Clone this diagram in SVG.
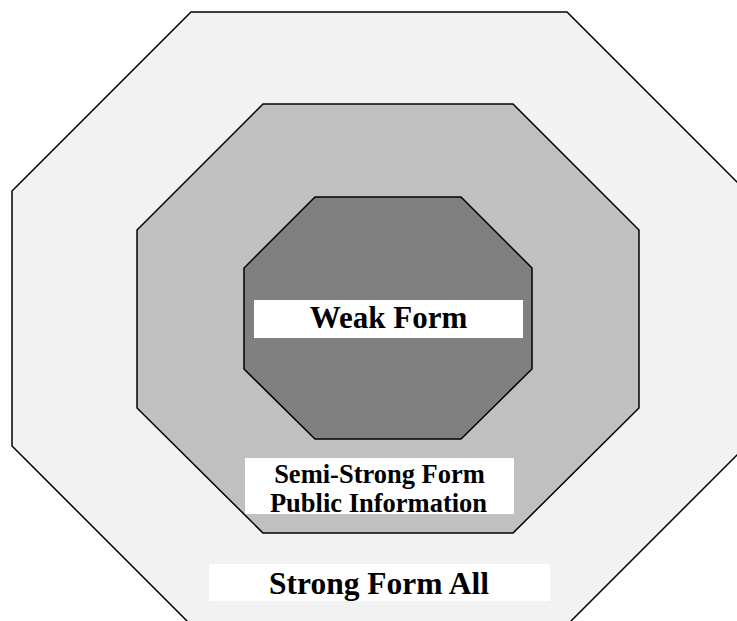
<svg xmlns="http://www.w3.org/2000/svg" width="737" height="621" viewBox="0 0 737 621">
  <style>
    .oct { stroke: #000; stroke-width: 1.5; stroke-linejoin: miter; }
    .box { fill: #fff; stroke: none; }
    .lbl { font-family: "Liberation Serif", "Times New Roman", serif; font-weight: bold; fill: #000; text-anchor: middle; }
  </style>
  <rect x="0" y="0" width="737" height="621" fill="#fff"/>
  <g id="strong-form">
    <polygon class="oct" fill="#f2f2f2" points="191,12 567,12 746,191 746,446 567,625 191,625 12,446 12,191"/>
  </g>
  <g id="semi-strong-form">
    <polygon class="oct" fill="#c0c0c0" points="263,104 513,104 639,230 639,408 513,533 263,533 137,408 137,230"/>
  </g>
  <g id="weak-form">
    <polygon class="oct" fill="#808080" points="315,197 461,197 532,268 532,369 461,439 315,439 244,369 244,268"/>
  </g>
  <g id="weak-label">
    <rect class="box" x="254" y="300" width="269" height="38"/>
    <text class="lbl" x="388.5" y="328" font-size="31">Weak Form</text>
  </g>
  <g id="semi-strong-label">
    <rect class="box" x="245" y="458" width="269" height="56"/>
    <text class="lbl" x="379.5" y="483" font-size="26.5">Semi-Strong Form</text>
    <text class="lbl" x="378.5" y="512" font-size="26.5">Public Information</text>
  </g>
  <g id="strong-label">
    <rect class="box" x="209" y="564" width="341" height="37"/>
    <text class="lbl" x="379" y="593.5" font-size="31.5">Strong Form All</text>
  </g>
  <g id="connectors"/>
</svg>
